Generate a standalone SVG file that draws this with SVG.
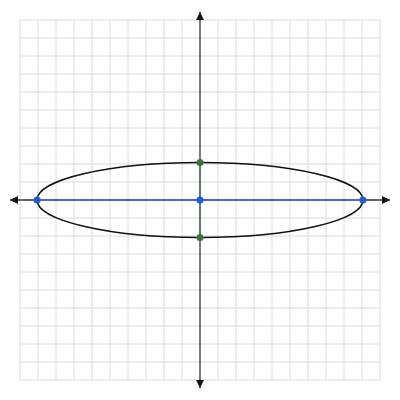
<svg xmlns="http://www.w3.org/2000/svg" width="400" height="400" viewBox="0 0 400 400">
<style>
.grid line{stroke:#dcdcdc;stroke-width:1}
.axis{stroke:#333;stroke-width:1.3;fill:none}
.ell{stroke:#111;stroke-width:1.4;fill:none}
.major{stroke:#3a6fd8;stroke-width:1.3}
.minor{stroke:#4f7a4f;stroke-width:1.3}
.pb{fill:#1f5ae0}
.pg{fill:#3f7040}
</style>
<defs>
<marker id="ah" viewBox="0 0 10 10" refX="10" refY="5" markerWidth="8" markerHeight="8" markerUnits="userSpaceOnUse" orient="auto">
<path d="M0,0 L10,5 L0,10 z" fill="#111"/>
</marker>
</defs>
<rect width="400" height="400" fill="#fff"/>
<g class="grid" id="grid">
<line x1="20" y1="20" x2="20" y2="380"/><line x1="38" y1="20" x2="38" y2="380"/><line x1="56" y1="20" x2="56" y2="380"/><line x1="74" y1="20" x2="74" y2="380"/><line x1="92" y1="20" x2="92" y2="380"/><line x1="110" y1="20" x2="110" y2="380"/><line x1="128" y1="20" x2="128" y2="380"/><line x1="146" y1="20" x2="146" y2="380"/><line x1="164" y1="20" x2="164" y2="380"/><line x1="182" y1="20" x2="182" y2="380"/><line x1="218" y1="20" x2="218" y2="380"/><line x1="236" y1="20" x2="236" y2="380"/><line x1="254" y1="20" x2="254" y2="380"/><line x1="272" y1="20" x2="272" y2="380"/><line x1="290" y1="20" x2="290" y2="380"/><line x1="308" y1="20" x2="308" y2="380"/><line x1="326" y1="20" x2="326" y2="380"/><line x1="344" y1="20" x2="344" y2="380"/><line x1="362" y1="20" x2="362" y2="380"/><line x1="380" y1="20" x2="380" y2="380"/>
<line x1="20" y1="20" x2="380" y2="20"/><line x1="20" y1="38" x2="380" y2="38"/><line x1="20" y1="56" x2="380" y2="56"/><line x1="20" y1="74" x2="380" y2="74"/><line x1="20" y1="92" x2="380" y2="92"/><line x1="20" y1="110" x2="380" y2="110"/><line x1="20" y1="128" x2="380" y2="128"/><line x1="20" y1="146" x2="380" y2="146"/><line x1="20" y1="164" x2="380" y2="164"/><line x1="20" y1="182" x2="380" y2="182"/><line x1="20" y1="218" x2="380" y2="218"/><line x1="20" y1="236" x2="380" y2="236"/><line x1="20" y1="254" x2="380" y2="254"/><line x1="20" y1="272" x2="380" y2="272"/><line x1="20" y1="290" x2="380" y2="290"/><line x1="20" y1="308" x2="380" y2="308"/><line x1="20" y1="326" x2="380" y2="326"/><line x1="20" y1="344" x2="380" y2="344"/><line x1="20" y1="362" x2="380" y2="362"/><line x1="20" y1="380" x2="380" y2="380"/>
</g>
<g id="axes">
<line class="axis" x1="200" y1="200" x2="10" y2="200" marker-end="url(#ah)"/>
<line class="axis" x1="200" y1="200" x2="390" y2="200" marker-end="url(#ah)"/>
<line class="axis" x1="200" y1="200" x2="200" y2="12" marker-end="url(#ah)"/>
<line class="axis" x1="200" y1="200" x2="200" y2="388" marker-end="url(#ah)"/>
</g>
<g id="ellipse">
<ellipse class="ell" cx="200" cy="200" rx="163" ry="37.5"/>
</g>
<g id="axes-segments">
<line class="major" x1="37" y1="200" x2="363" y2="200"/>
<line class="minor" x1="200" y1="162.5" x2="200" y2="237.5"/>
</g>
<g id="points">
<circle class="pb" cx="37" cy="200" r="3.5"/>
<circle class="pb" cx="363" cy="200" r="3.5"/>
<circle class="pb" cx="200" cy="200" r="3.5"/>
<circle class="pg" cx="200" cy="162.5" r="3.5"/>
<circle class="pg" cx="200" cy="237.5" r="3.5"/>
</g>
</svg>
